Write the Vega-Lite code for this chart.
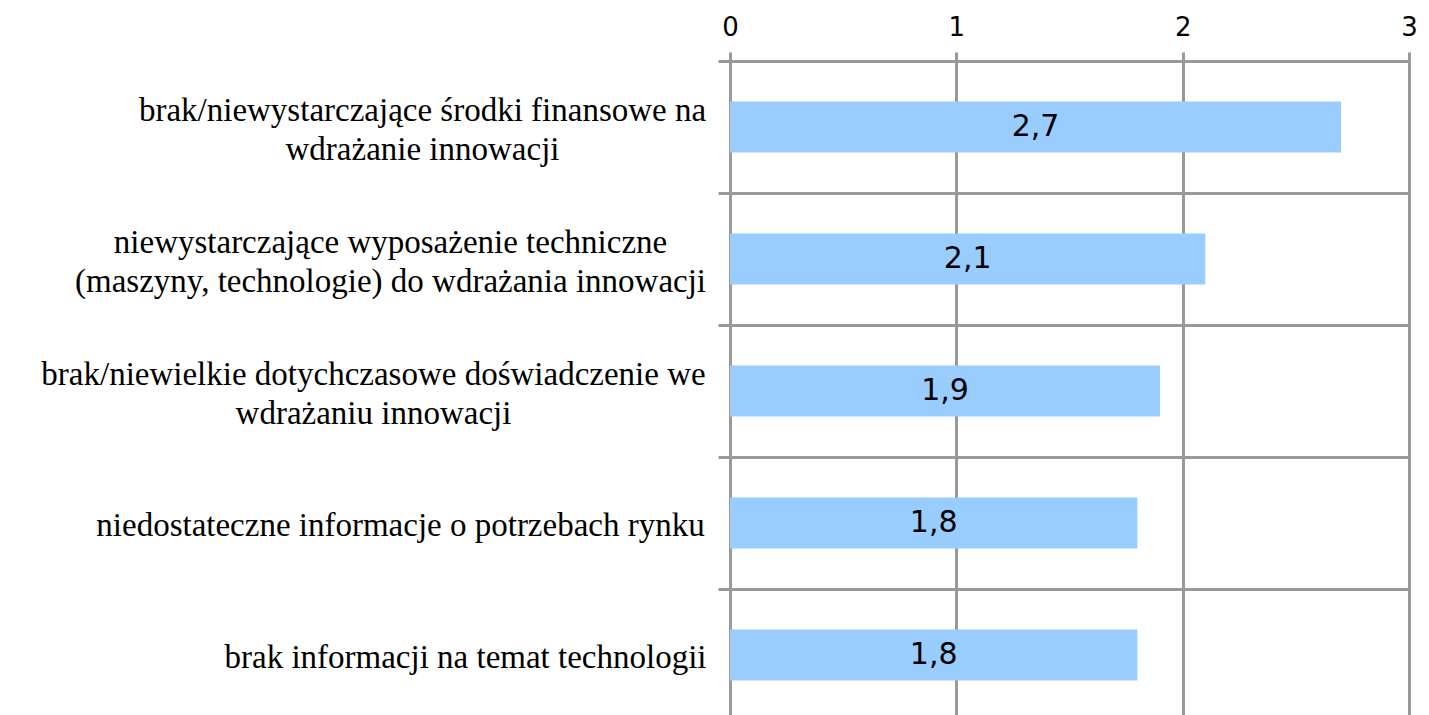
{
  "$schema": "https://vega.github.io/schema/vega-lite/v6.json",
  "width": 679,
  "height": 660,
  "autosize": {"type": "none"},
  "padding": {"left": 730, "top": 61, "right": 20, "bottom": 0},
  "config": {
    "view": {"stroke": null},
    "locale": {"number": {"decimal": ",", "thousands": " ", "grouping": [3], "currency": ["", " zł"]}}
  },
  "data": {
    "values": [
      {"cat": "brak/niewystarczające środki finansowe na|wdrażanie innowacji", "value": 2.7},
      {"cat": "niewystarczające wyposażenie techniczne|(maszyny, technologie) do wdrażania innowacji", "value": 2.1},
      {"cat": "brak/niewielkie dotychczasowe doświadczenie we|wdrażaniu innowacji", "value": 1.9},
      {"cat": "niedostateczne informacje o potrzebach rynku", "value": 1.8},
      {"cat": "brak informacji na temat technologii", "value": 1.8}
    ]
  },
  "layer": [
    {
      "mark": {"type": "bar", "color": "#99ccff", "height": 51},
      "encoding": {
        "y": {
          "field": "cat", "type": "nominal", "sort": null,
          "scale": {"paddingInner": 0, "paddingOuter": 0},
          "axis": {
            "title": null, "orient": "left", "tickBand": "extent",
            "grid": true, "gridColor": "#999999", "gridWidth": 3, "gridOpacity": 1,
            "ticks": true, "tickColor": "#999999", "tickWidth": 3, "tickSize": 12,
            "domain": false,
            "labelExpr": "split(datum.label, '|')",
            "labelFont": "Liberation Serif", "labelFontSize": 33, "labelColor": "#000000",
            "labelPadding": {"expr": "(datum && isString(datum.value)) ? (indexof(datum.value, 'środki') >= 0 ? 296 : indexof(datum.value, 'maszyny') >= 0 ? 328 : indexof(datum.value, 'doświadczenie') >= 0 ? 345 : indexof(datum.value, 'rynku') >= 0 ? 318 : 253) : 300"},
            "labelOffset": {"expr": "(datum && isString(datum.value)) ? (indexof(datum.value, '|') >= 0 ? -17 : 2) : 0"},
            "labelLimit": 900, "labelLineHeight": 39, "labelAlign": "center", "labelBaseline": "middle"
          }
        },
        "x": {
          "field": "value", "type": "quantitative",
          "scale": {"domain": [0, 3], "nice": false},
          "axis": {
            "title": null, "orient": "top", "values": [0, 1, 2, 3], "format": "d",
            "grid": true, "gridColor": "#999999", "gridWidth": 3, "gridOpacity": 1,
            "ticks": true, "tickColor": "#999999", "tickWidth": 3, "tickSize": 9,
            "domain": false,
            "labelFont": "DejaVu Sans", "labelFontSize": 26, "labelColor": "#000000",
            "labelPadding": 12, "labelFlush": false
          }
        }
      }
    },
    {
      "mark": {"type": "text", "font": "DejaVu Sans", "fontSize": 30, "color": "#000000", "align": "center", "baseline": "middle"},
      "encoding": {
        "y": {"field": "cat", "type": "nominal", "sort": null},
        "x": {"field": "value", "type": "quantitative", "scale": {"domain": [0, 6], "nice": false}, "axis": null},
        "text": {"field": "value", "type": "quantitative", "format": ".1f"}
      }
    }
  ],
  "resolve": {"scale": {"x": "independent"}}
}
